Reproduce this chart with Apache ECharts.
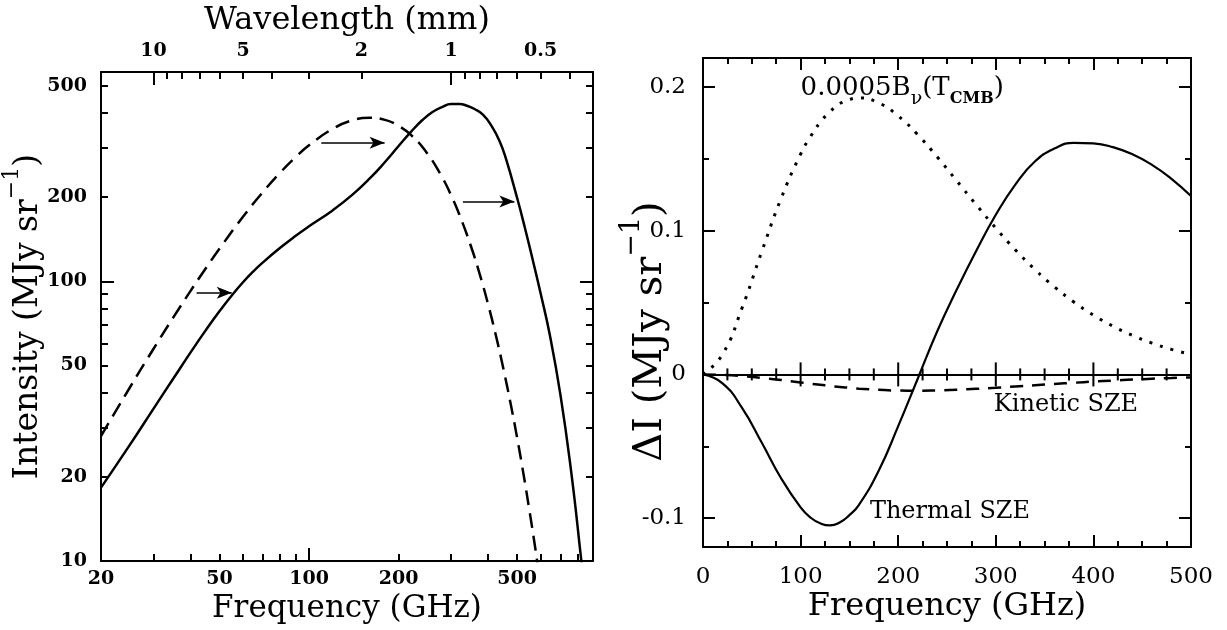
<!DOCTYPE html>
<html><head><meta charset="utf-8">
<script src="https://cdn.jsdelivr.net/npm/echarts@6/dist/echarts.min.js"></script>
<style>html,body{margin:0;padding:0;background:#fff}#c{width:1227px;height:630px}</style>
</head><body><div id="c"></div>
<script>
// ---------- Left panel: CMB spectrum and SZ-distorted spectrum ----------
const cmbFreqGHz = [20,25,30,35,40,45,50,60,70,80,90,100,120,140,160,180,200,220,250,280,300,320,350,375,400,425,450,475,500,525,550,575,600];
const cmbIntensity = [27.98,41.71,57.28,74.3,92.4,111.3,130.7,170.0,208.4,244.5,277.5,306.4,350.5,376.4,384.4,377.6,359.4,333.5,285.9,235.7,203.3,173.2,133.4,105.6,82.5,63.7,48.65,36.86,27.7,20.6,15.22,11.22,8.21];
const szFreqGHz = [20,25,30,35,40,45,50,55,60,65,70,80,90,100,120,140,160,180,200,220,240,260,280,300,320,340,360,384,410,437,460,502,530,566,600,644,700,760,819,850];
const szIntensity = [18.3,26,35,44.9,55.7,66.9,78.1,89,99.2,108.5,116.8,131.7,145.1,157.2,179.2,204,233.1,266.9,304.5,342,376.3,402.8,419.6,430,430,424,413,394,360,317,272,196,157,118,90.6,64.5,39.1,20.9,10.4,7.1];
// arrows: [start freq, end freq, intensity]
const shiftArrows = [[41.9,55,91],[110,179.5,313],[329,490,193]];
// axis ticks / labels
const freqLabels = [20,50,100,200,500];
const freqMinorTicks = [30,40,50,60,70,80,90,200,300,400,500,600,700,800];
const freqMajorTicks = [100];
const waveLabelsMM = [10,5,2,1,0.5];
const waveMinorTicksMM = [9,8,7,6,5,4,3,2,0.9,0.8,0.7,0.6,0.5,0.4];
const waveMajorTicksMM = [10,1];
const intensityLabels = [10,20,50,100,200,500];
const intensityMinorTicks = [20,30,40,50,60,70,80,90,200,300,400,500];
const intensityMajorTicks = [100];

// ---------- Right panel: SZE spectral distortions ----------
const rightFreqGHz = [0,20,40,60,80,100,110,120,130,140,150,160,180,200,220,240,260,280,300,320,340,360,380,400,420,440,460,480,500];
const thermalSZE = [0,-0.0062,-0.0233,-0.0472,-0.0722,-0.0925,-0.0995,-0.1035,-0.1050,-0.1030,-0.0978,-0.0905,-0.0670,-0.0360,-0.0030,0.0300,0.0590,0.0860,0.1110,0.1320,0.1480,0.1570,0.1610,0.1606,0.1580,0.1530,0.1457,0.1360,0.1240];
const kineticSZE = [0,-0.0003,-0.0011,-0.0024,-0.0039,-0.0056,-0.0064,-0.0072,-0.0080,-0.0087,-0.0093,-0.0099,-0.0107,-0.0112,-0.0113,-0.0111,-0.0107,-0.0100,-0.0093,-0.0084,-0.0075,-0.0066,-0.0058,-0.0050,-0.0043,-0.0036,-0.0030,-0.0025,-0.0021];
const scaledCMB = [0,0.0140,0.0462,0.0850,0.1223,0.1532,0.1652,0.1752,0.1826,0.1882,0.1911,0.1922,0.1888,0.1797,0.1667,0.1512,0.1346,0.1179,0.1017,0.0866,0.0730,0.0609,0.0503,0.0412,0.0336,0.0271,0.0218,0.0174,0.0139];
const dIMajorTicks = [-0.1,0,0.1,0.2];
const dIMinorTicks = [-0.05,0.05,0.15];
const zeroLineTicks = [0,25,50,75,100,125,150,175,200,225,250,275,300,325,350,375,400,425,450,475,500];

const FONT = 'DejaVu Serif';
const BLACK = '#000';
const LS = {color: BLACK, width: 2};
const TS = {color: BLACK, width: 2};
const mmToGHz = mm => 300 / mm;

function ax(o) {
  return Object.assign({
    splitLine: {show: false}, minorSplitLine: {show: false}, nameMoveOverlap: false,
    axisLine: {show: false, onZero: false, lineStyle: LS},
    axisTick: {show: false}, axisLabel: {show: false}
  }, o);
}
function logX(o) { return ax(Object.assign({gridIndex: 0, type: 'log', logBase: 10, min: 20, max: 900}, o)); }
function logY(o) { return ax(Object.assign({gridIndex: 0, type: 'log', logBase: 10, min: 10, max: 560}, o)); }
function valX(o) { return ax(Object.assign({gridIndex: 1, type: 'value', min: 0, max: 500, interval: 100}, o)); }
function valY(o) { return ax(Object.assign({gridIndex: 1, type: 'value', min: -0.12, max: 0.22}, o)); }

const nameStyle = (size, rich, extra) => Object.assign({fontFamily: FONT, fontSize: size, color: BLACK, rich: rich || {}}, extra || {});
const supRich = (size) => ({
  m: {fontFamily: FONT, fontSize: size, color: BLACK, padding: [Math.round(size * 0.33), 0, 0, 0], verticalAlign: 'top'},
  s: {fontFamily: FONT, fontSize: Math.round(size * 0.68), color: BLACK, verticalAlign: 'top'}
});
const tickLabel = (size, weight) => ({show: true, fontFamily: FONT, fontSize: size, fontWeight: weight || 'normal', color: BLACK});

const option = {
  animation: false,
  backgroundColor: '#fff',
  grid: [
    {left: 101, top: 67, width: 492, height: 494},
    {left: 703, top: 58, width: 488, height: 489}
  ],
  xAxis: [
    logX({position: 'bottom', axisLine: {show: true, onZero: false, lineStyle: LS},
      axisTick: {show: true, inside: true, length: 7, lineStyle: TS, customValues: freqMinorTicks},
      axisLabel: Object.assign(tickLabel(19, 'bold'), {customValues: freqLabels, margin: 9, formatter: v => String(Math.round(v))}),
      name: 'Frequency (GHz)', nameLocation: 'middle', nameGap: 32, nameTextStyle: nameStyle(31)}),
    logX({position: 'bottom',
      axisTick: {show: true, inside: true, length: 13, lineStyle: TS, customValues: freqMajorTicks}}),
    logX({position: 'top', axisLine: {show: true, onZero: false, lineStyle: LS},
      axisTick: {show: true, inside: true, length: 7, lineStyle: TS, customValues: waveMinorTicksMM.map(mmToGHz)},
      axisLabel: Object.assign(tickLabel(19, 'bold'), {customValues: waveLabelsMM.map(mmToGHz), margin: 11,
        formatter: v => String(+(300 / v).toFixed(2))}),
      name: 'Wavelength (mm)', nameLocation: 'middle', nameGap: 35, nameTextStyle: nameStyle(32)}),
    logX({position: 'top',
      axisTick: {show: true, inside: true, length: 13, lineStyle: TS, customValues: waveMajorTicksMM.map(mmToGHz)}}),
    valX({position: 'bottom', axisLine: {show: true, onZero: false, lineStyle: LS},
      axisTick: {show: true, inside: true, length: 12, lineStyle: TS},
      minorTick: {show: true, splitNumber: 4, length: 6, lineStyle: TS},
      axisLabel: Object.assign(tickLabel(23), {margin: 19}),
      name: 'Frequency (GHz)', nameLocation: 'middle', nameGap: 44, nameTextStyle: nameStyle(32)}),
    valX({position: 'top', axisLine: {show: true, onZero: false, lineStyle: LS},
      axisTick: {show: true, inside: true, length: 12, lineStyle: TS},
      minorTick: {show: true, splitNumber: 4, length: 6, lineStyle: TS}})
  ],
  yAxis: [
    logY({position: 'left', axisLine: {show: true, onZero: false, lineStyle: LS},
      axisTick: {show: true, inside: true, length: 7, lineStyle: TS, customValues: intensityMinorTicks},
      axisLabel: Object.assign(tickLabel(19, 'bold'), {customValues: intensityLabels, margin: 14, formatter: v => String(Math.round(v))}),
      name: '{m|Intensity (MJy sr}{s|−1}{m|)}', nameLocation: 'middle', nameGap: 56,
      nameTextStyle: nameStyle(33, supRich(33))}),
    logY({position: 'left',
      axisTick: {show: true, inside: true, length: 13, lineStyle: TS, customValues: intensityMajorTicks}}),
    logY({position: 'right', axisLine: {show: true, onZero: false, lineStyle: LS},
      axisTick: {show: true, inside: true, length: 7, lineStyle: TS, customValues: intensityMinorTicks}}),
    logY({position: 'right',
      axisTick: {show: true, inside: true, length: 13, lineStyle: TS, customValues: intensityMajorTicks}}),
    valY({position: 'left', axisLine: {show: true, onZero: false, lineStyle: LS},
      axisTick: {show: true, inside: true, length: 12, lineStyle: TS, customValues: dIMajorTicks},
      axisLabel: Object.assign(tickLabel(23), {customValues: dIMajorTicks, margin: 17, formatter: v => String(+v.toFixed(2))}),
      name: '{m|ΔI (MJy sr}{s|−1}{m|)}', nameLocation: 'middle', nameGap: 32,
      nameTextStyle: nameStyle(40, supRich(40), {padding: [0, 58, 0, 0]})}),
    valY({position: 'left',
      axisTick: {show: true, inside: true, length: 6, lineStyle: TS, customValues: dIMinorTicks}}),
    valY({position: 'right', axisLine: {show: true, onZero: false, lineStyle: LS},
      axisTick: {show: true, inside: true, length: 12, lineStyle: TS, customValues: dIMajorTicks}}),
    valY({position: 'right',
      axisTick: {show: true, inside: true, length: 6, lineStyle: TS, customValues: dIMinorTicks}})
  ],
  series: [
    {
      type: 'line', xAxisIndex: 0, yAxisIndex: 0, symbol: 'none', smooth: 0.5,
      data: cmbFreqGHz.map((f, i) => [f, cmbIntensity[i]]),
      lineStyle: {color: BLACK, width: 2.5, type: [15, 8]}
    },
    {
      type: 'line', xAxisIndex: 0, yAxisIndex: 0, symbol: 'none', smooth: 0.5,
      data: szFreqGHz.map((f, i) => [f, szIntensity[i]]),
      lineStyle: {color: BLACK, width: 2.5},
      markLine: {
        silent: true, animation: false, symbol: ['none', 'arrow'], symbolSize: [9, 15],
        lineStyle: {color: BLACK, width: 1.5, type: 'solid'}, label: {show: false},
        data: shiftArrows.map(a => [{coord: [a[0], a[2]]}, {coord: [a[1], a[2]]}])
      }
    },
    {
      type: 'line', xAxisIndex: 4, yAxisIndex: 4, symbol: 'none', smooth: 0.5,
      data: rightFreqGHz.map((f, i) => [f, scaledCMB[i]]),
      lineStyle: {color: BLACK, width: 3, type: [3, 8]},
      markPoint: {
        silent: true, symbol: 'circle', symbolSize: 0,
        data: [{coord: [100, 0.1965]}],
        label: {show: true, position: 'right', distance: 0,
          formatter: '{a|0.0005B}{b|ν}{a|(T}{c|CMB}{a|)}',
          rich: {
            a: {fontFamily: FONT, fontSize: 26, color: BLACK, verticalAlign: 'top'},
            b: {fontFamily: FONT, fontSize: 19, color: BLACK, verticalAlign: 'top', padding: [15, 0, 0, 0]},
            c: {fontFamily: FONT, fontSize: 16, fontWeight: 'bold', color: BLACK, verticalAlign: 'top', padding: [16, 0, 0, 0]}
          }}
      }
    },
    {
      type: 'line', xAxisIndex: 4, yAxisIndex: 4, symbol: 'none', smooth: 0.5,
      data: rightFreqGHz.map((f, i) => [f, thermalSZE[i]]),
      lineStyle: {color: BLACK, width: 2.2},
      markLine: {
        silent: true, symbol: 'none', label: {show: false},
        lineStyle: {color: BLACK, width: 2, type: 'solid'},
        data: [{yAxis: 0}]
      },
      markPoint: {
        silent: true, symbol: 'circle', symbolSize: 0,
        data: [{coord: [171, -0.0953]}],
        label: {show: true, position: 'right', distance: 0, formatter: 'Thermal SZE',
          fontFamily: FONT, fontSize: 24, color: BLACK}
      }
    },
    {
      type: 'line', xAxisIndex: 4, yAxisIndex: 4, symbol: 'none', smooth: 0.5,
      data: rightFreqGHz.map((f, i) => [f, kineticSZE[i]]),
      lineStyle: {color: BLACK, width: 2.5, type: [13, 9]},
      markPoint: {
        silent: true, symbol: 'circle', symbolSize: 0,
        data: [{coord: [298, -0.021]}],
        label: {show: true, position: 'right', distance: 0, formatter: 'Kinetic SZE',
          fontFamily: FONT, fontSize: 24, color: BLACK}
      }
    },
    {
      type: 'custom', xAxisIndex: 4, yAxisIndex: 4, silent: true, z: 5,
      data: zeroLineTicks.map(v => [v, 0]),
      renderItem: (params, api) => {
        const v = api.value(0);
        const p = api.coord([v, 0]);
        const L = (v % 100 === 0) ? 12 : 6;
        return {type: 'line', shape: {x1: p[0], y1: p[1] - L, x2: p[0], y2: p[1] + L},
          style: {stroke: BLACK, lineWidth: 2}};
      }
    }
  ]
};

const chart = echarts.init(document.getElementById('c'), null, {renderer: 'canvas'});
chart.setOption(option);
</script>
</body></html>
